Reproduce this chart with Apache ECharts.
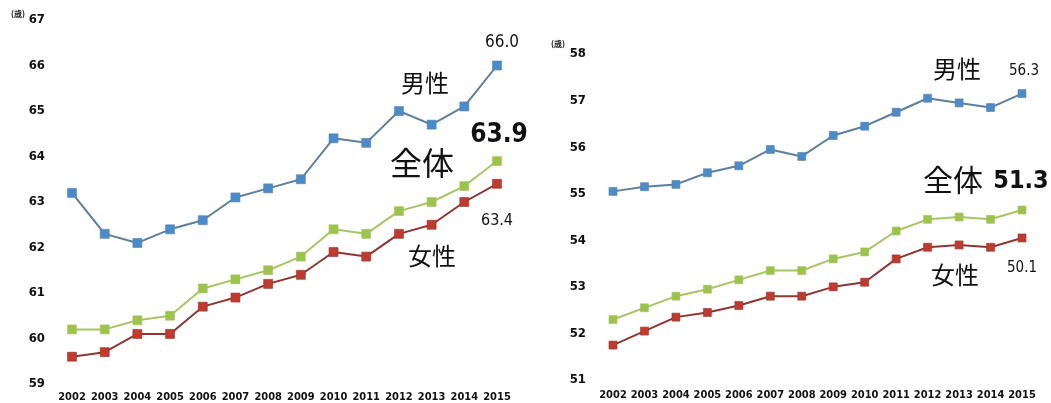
<!DOCTYPE html>
<html><head><meta charset="utf-8">
<script src="https://cdn.jsdelivr.net/npm/echarts@6/dist/echarts.min.js"></script>
<style>html,body{margin:0;padding:0;background:#fff}#c{width:1051px;height:403px}</style>
</head><body><div id="c"></div>
<script>
const years = ['2002','2003','2004','2005','2006','2007','2008','2009','2010','2011','2012','2013','2014','2015'];
// Left chart
const leftMale   = [63.2,62.3,62.1,62.4,62.6,63.1,63.3,63.5,64.4,64.3,65.0,64.7,65.1,66.0];
const leftTotal  = [60.2,60.2,60.4,60.5,61.1,61.3,61.5,61.8,62.4,62.3,62.8,63.0,63.35,63.9];
const leftFemale = [59.6,59.7,60.1,60.1,60.7,60.9,61.2,61.4,61.9,61.8,62.3,62.5,63.0,63.4];
// Right chart
const rightMale   = [55.05,55.15,55.2,55.45,55.6,55.95,55.8,56.25,56.45,56.75,57.05,56.95,56.85,57.15];
const rightTotal  = [52.3,52.55,52.8,52.95,53.15,53.35,53.35,53.6,53.75,54.2,54.45,54.5,54.45,54.65];
const rightFemale = [51.75,52.05,52.35,52.45,52.6,52.8,52.8,53.0,53.1,53.6,53.85,53.9,53.85,54.05];

const numFont = '"DejaVu Sans Condensed", "DejaVu Sans", sans-serif';
const cjkFont = '"Noto Sans CJK JP", sans-serif';

const chart = echarts.init(document.getElementById('c'), null, {renderer:'canvas'});

function mkSeries(name, data, idx, lineColor, markColor, size){
  return {name, type:'line', data, xAxisIndex:idx, yAxisIndex:idx,
    symbol:'rect', symbolSize:size, showAllSymbol:true,
    lineStyle:{color:lineColor, width:2},
    itemStyle:{color:markColor, borderColor:lineColor, borderWidth:0.6},
    emphasis:{disabled:true}, animation:false, z: 3};
}
const blueL='#5d7f9c', blueM='#4a8ccb';
const greenL='#a6c566', greenM='#9cc34a';
const redL='#8c3732', redM='#c23a2e';

function xAx(idx, margin){
  return {type:'category', gridIndex:idx, data:years, boundaryGap:false,
    axisLine:{show:false}, axisTick:{show:false}, splitLine:{show:false},
    axisLabel:{color:'#111', fontFamily:numFont, fontWeight:'bold', fontSize:11, margin:margin, interval:0}};
}
function yAx(idx, min, max){
  return {type:'value', gridIndex:idx, min, max, interval:1,
    axisLine:{show:false}, axisTick:{show:false}, splitLine:{show:false},
    axisLabel:{color:'#111', fontFamily:numFont, fontWeight:'bold', fontSize:13, margin:27}};
}
function txt(x, y, s, size, font, weight){
  return {type:'text', x, y, style:{text:s, fontSize:size, fontFamily:font, fontWeight:weight||'normal', fill:'#111', align:'center', verticalAlign:'middle'}, z:10};
}

chart.setOption({
  backgroundColor:'#fff',
  animation:false,
  grid:[
    {left:72, right:554, top:20, bottom:19},
    {left:613, right:29, top:54, bottom:23}
  ],
  xAxis:[xAx(0,8), xAx(1,10)],
  yAxis:[yAx(0,59,67), yAx(1,51,58)],
  series:[
    mkSeries('男性', leftMale, 0, blueL, blueM, 9),
    mkSeries('全体', leftTotal, 0, greenL, greenM, 9),
    mkSeries('女性', leftFemale, 0, redL, redM, 9),
    mkSeries('男性', rightMale, 1, blueL, blueM, 8),
    mkSeries('全体', rightTotal, 1, greenL, greenM, 8),
    mkSeries('女性', rightFemale, 1, redL, redM, 8)
  ],
  graphic:[
    txt(18, 14, '(歳)', 8, cjkFont, 'bold'),
    txt(558, 44, '(歳)', 8, cjkFont, 'bold'),
    txt(425, 83, '男性', 24, cjkFont),
    txt(502, 43, '66.0', 17, numFont),
    txt(499, 135, '63.9', 26, numFont, 'bold'),
    txt(422, 163, '全体', 32, cjkFont),
    txt(497, 221, '63.4', 16, numFont),
    txt(432, 256, '女性', 24, cjkFont),
    txt(957, 69, '男性', 24, cjkFont),
    txt(1024, 71, '56.3', 15, numFont),
    txt(953, 180, '全体', 30, cjkFont),
    txt(1021, 181, '51.3', 25, numFont, 'bold'),
    txt(955, 275, '女性', 24, cjkFont),
    txt(1022, 268, '50.1', 15, numFont)
  ]
});
</script></body></html>
